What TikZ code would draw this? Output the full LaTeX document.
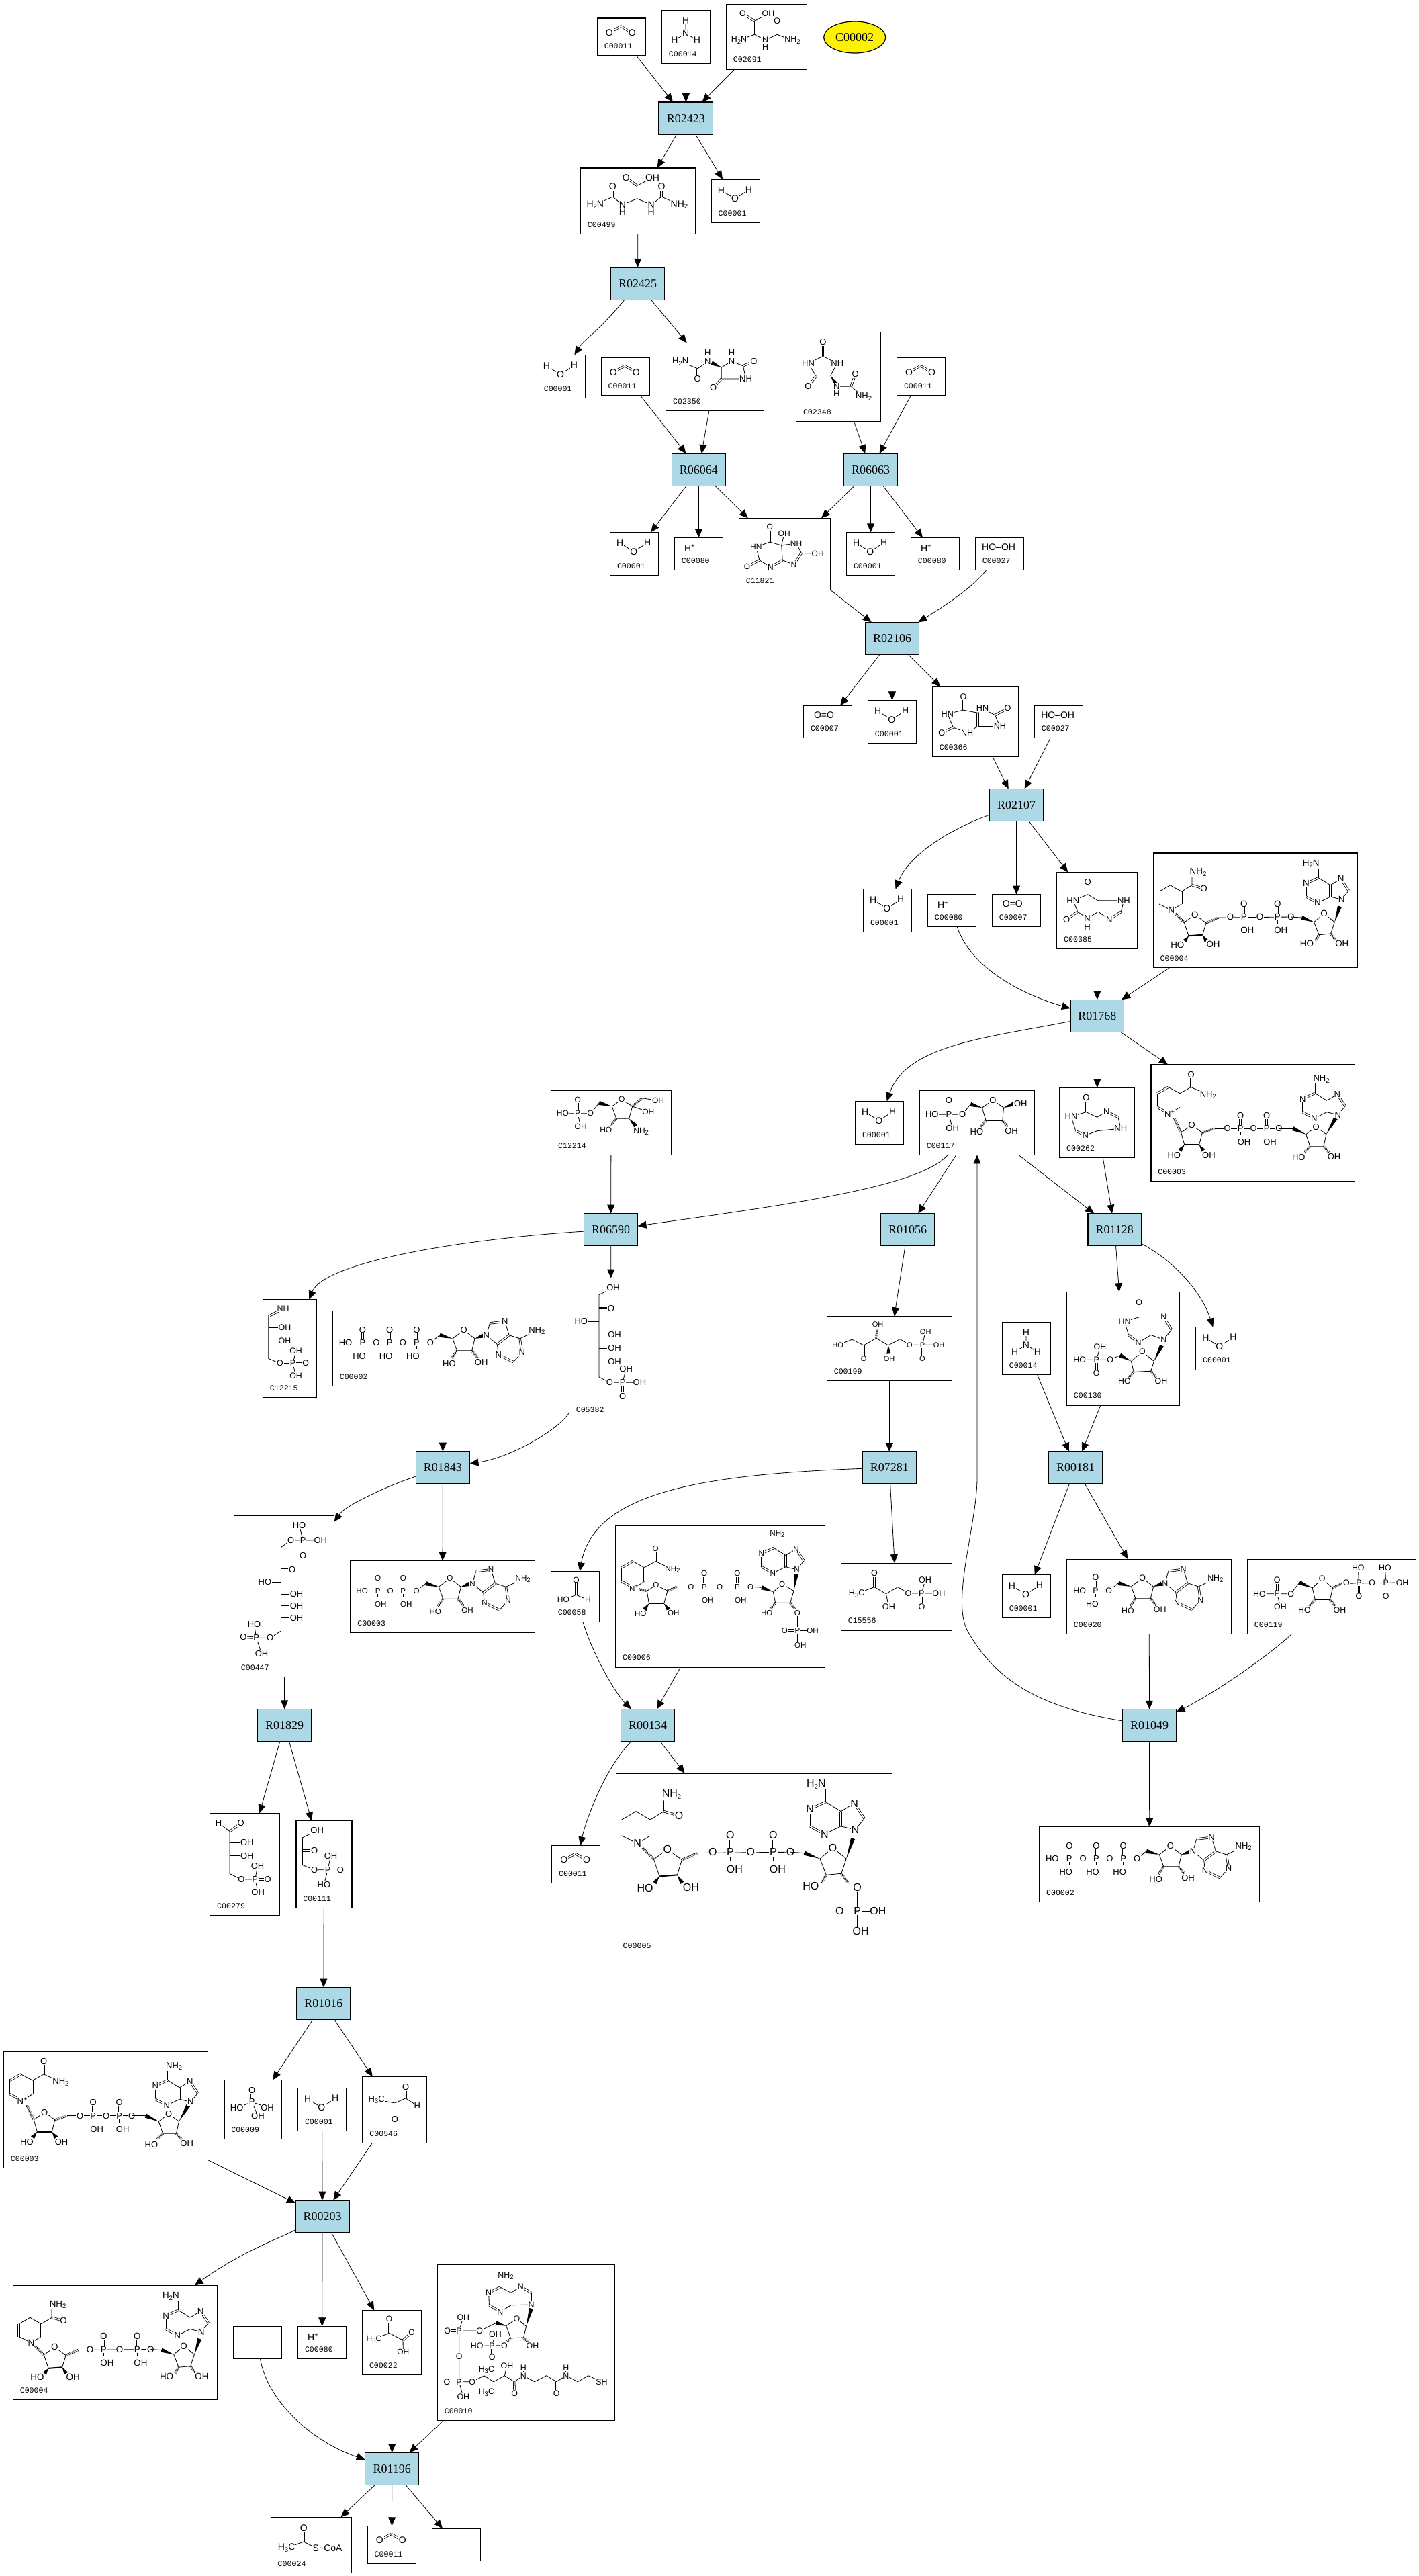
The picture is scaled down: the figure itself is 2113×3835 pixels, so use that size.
\documentclass[tikz,border=0pt]{standalone}
\usepackage{fontspec}
\setmainfont{Liberation Sans}
\newfontfamily\rxnfont{Liberation Serif}
\newfontfamily\idfont{Liberation Mono}
\usetikzlibrary{arrows.meta,calc,shapes.geometric}
\tikzset{
 cbox/.style={draw,fill=white,line width=.6pt,inner sep=0pt,outer sep=0pt},
 rbox/.style={draw,fill=lightb,line width=.6pt,inner sep=0pt,outer sep=0pt,font=\rxnfont\fontsize{9}{9}\selectfont},
 idl/.style={inner sep=0pt,anchor=west,font=\idfont\fontsize{5.8}{6}\selectfont},
 conn/.style={line width=.4pt,-{Triangle[length=6.5pt,width=5.5pt]}},
 bond/.style={line width=.42pt},
 thk/.style={line width=1pt},
 dbond/.style={line width=.4pt,double,double distance=.9pt},
 hashb/.style={line width=1.8pt,dash pattern=on .3pt off .5pt},
 atomlbl/.style={inner sep=.4pt,fill=white,font=\fontsize{\mfs}{\mfs}\selectfont}
}
\definecolor{lightb}{HTML}{ADD8E6}
\def\mfs{7}
\newcount\atmc
\newcommand\atm[3]{\global\advance\atmc by 1 \node[atomlbl] (atom\the\atmc) at (#1,#2) {#3};}
\newcommand\bnd[1]{\draw[bond] #1;}
\newcommand\dbn[1]{\draw[dbond] #1;}
\newcommand\hsh[1]{\draw[hashb] #1;}
\newcommand\wdg[2]{\fill ($#2!1.6pt!90:#1$) -- #1 -- ($#2!1.6pt!-90:#1$) -- cycle;}
\newcommand\sbs[1]{\raisebox{-.35ex}{\fontsize{4.8}{5}\selectfont #1}}
\newcommand\sps[1]{\raisebox{.7ex}{\fontsize{4.8}{5}\selectfont #1}}
\newcommand\cpdbox[5]{%
 \pgfmathsetmacro\cpdw{(#4-#2)*0.5}\pgfmathsetmacro\cpdh{(#5-#3)*0.5}%
 \pgfmathsetmacro\cpdx{(#4+#2)/2}\pgfmathsetmacro\cpdy{(#5+#3)/2}%
 \node[cbox,minimum width=\cpdw pt,minimum height=\cpdh pt] (#1) at (\cpdx,\cpdy) {};}
\newcommand\cpd[6]{\cpdbox{#1}{#2}{#3}{#4}{#5}%
 \node[idl] (#1id) at ({#2+10},{#5-14}) {#6};}
\newcommand\rxn[5]{%
 \pgfmathsetmacro\cpdw{(#4-#2)*0.5}\pgfmathsetmacro\cpdh{(#5-#3)*0.5}%
 \pgfmathsetmacro\cpdx{(#4+#2)/2}\pgfmathsetmacro\cpdy{(#5+#3)/2}%
 \node[rbox,minimum width=\cpdw pt,minimum height=\cpdh pt] (#1) at (\cpdx,\cpdy) {#1};}
\newcommand\place[4]{\begin{scope}[shift={(#1,#2)}]\def\mfs{#3}#4\end{scope}}
% small molecules
\newcommand\molWater{\bnd{(14.6,16.4)--(35.2,29)--(55.6,15.6)}\atm{14.6}{16.4}{H}\atm{35.2}{29}{O}\atm{55.6}{15.6}{H}}
\newcommand\molCO{\dbn{(18,21.7)--(35,12)}\dbn{(35,12)--(51.9,21.7)}\atm{18}{21.7}{O}\atm{51.9}{21.7}{O}}
\newcommand\molAmm{\bnd{(35.6,14.7)--(35.6,33.7)--(18.8,43.7)}\bnd{(35.6,33.7)--(52.4,43.7)}\atm{35.6}{14.7}{H}\atm{35.6}{33.7}{N}\atm{18.8}{43.7}{H}\atm{52.4}{43.7}{H}}
\newcommand\molProton{\atm{22.4}{16}{H\sps{+}}}
\newcommand\molOxy{\atm{30.4}{14.3}{O=O}}
\newcommand\molPerox{\atm{34.7}{14.5}{HO--OH}}
\newcommand\Pgrp[4]{\bnd{(#1,#2)--({#1},{#2+10})}\dbn{(#1,{#2-15})--(#1,#2)}\atm{#1}{#2}{P}\atm{#1}{{#2-19.4}}{O}\atm{{#1+#4}}{{#2+19.9}}{#3}}
% adenine, N9 at origin, NH2 up
\newcommand\adenUp[2]{%
 \bnd{(0,0)--(-16.6,-4)}\bnd{(10.7,-13)--(0,0)}\dbn{(-1,-30.7)--(10.7,-13)}
 \bnd{(-1,-30.7)--(-16.6,-21.3)}\dbn{(-16.6,-21.3)--(-16.6,-4)}\bnd{(-16.6,-21.3)--(-34.3,-32.3)}
 \dbn{(-34.3,-32.3)--(-52.6,-24)}\bnd{(-52.6,-24)--(-52.6,-4)}\dbn{(-52.6,-4)--(-35.6,5.3)}
 \bnd{(-35.6,5.3)--(-16.6,-4)}\bnd{(-34.3,-32.3)--(-34.3,-47.3)}
 \atm{0}{0}{N}\atm{-1}{-30.7}{N}\atm{-52.6}{-24}{N}\atm{-35.6}{5.3}{N}\atm{#2}{-53}{#1}}
% nicotinamide, N at origin
\newcommand\nicOx[1]{%
 \bnd{(0,0)--(15.4,-10.2)}\dbn{(15.4,-10.2)--(15.4,-30.6)}\bnd{(15.4,-30.6)--(-1.8,-39.8)}\dbn{(-1.8,-39.8)--(-18.4,-30.6)}
 \bnd{(-18.4,-30.6)--(-18.4,-10.2)}\dbn{(-18.4,-10.2)--(0,0)}\bnd{(15.4,-30.6)--(32.1,-39.8)}\dbn{(32.1,-39.8)--(32.1,-58.7)}\bnd{(32.1,-39.8)--(57.4,-28.1)}
 \atm{0}{0}{#1}\atm{32.1}{-58.7}{O}\atm{57.4}{-28.1}{NH\sbs{2}}}
\newcommand\nicRed{%
 \bnd{(0,0)--(15,-9)}\dbn{(15,-9)--(15,-27.7)}\bnd{(15,-27.7)--(-1.7,-37.3)--(-18.3,-27.7)}\dbn{(-18.3,-27.7)--(-18.3,-9)}\bnd{(-18.3,-9)--(0,0)}
 \bnd{(15,-27.7)--(30.7,-37.3)--(30.7,-50)}\dbn{(30.7,-37.3)--(48.3,-32.3)}
 \atm{0}{0}{N}\atm{48.3}{-32.3}{O}\atm{39.7}{-56.7}{NH\sbs{2}}}
% NADH
\newcommand\molNADHcore{%
 \hsh{(33,90)--(46,103.3)}
 \begin{scope}[shift={(27,85)}]\nicRed\end{scope}
 \bnd{(46,103.3)--(62,91.7)--(78.7,104)--(73.3,121.7)}\bnd{(46,103.3)--(52.7,123.3)}\draw[thk] (52.7,123.3)--(73.3,121.7);
 \wdg{(52.7,123.3)}{(47,131)}\wdg{(73.3,121.7)}{(79,131)}
 \hsh{(78.7,104)--(97,96)}\bnd{(97,96)--(205,95)}
 \Pgrp{135}{95}{OH}{5}\Pgrp{185}{95}{OH}{5}
 \atm{62}{91.7}{O}\atm{114.7}{95}{O}\atm{158.7}{95}{O}\atm{205}{95}{O}
 \bnd{(205,95)--(221,96)}\wdg{(239.3,102.7)}{(221,96)}
 \bnd{(239.3,102.7)--(254.3,90)--(270,102.7)--(264.3,120)--(246.7,121.7)--(239.3,102.7)}
 \hsh{(246.7,121.7)--(241,131)}\hsh{(264.3,120)--(272,131)}
 \wdg{(270,102.7)}{(277.7,79.3)}
 \atm{254.3}{90}{O}\atm{36}{136.7}{HO}\atm{89.3}{136}{OH}\atm{228.7}{135}{HO}
 \begin{scope}[shift={(280.3,69)}]\adenUp{H\sbs{2}N}{-45.3}\end{scope}}
\newcommand\molNADH{\molNADHcore\atm{281}{135}{OH}}
\newcommand\molNADPH{\molNADHcore
 \bnd{(282.8,136.3)--(282.8,187)}\bnd{(282.8,163.6)--(306.8,163.6)}\dbn{(262.3,163.6)--(282.8,163.6)}
 \atm{282.8}{136.3}{O}\atm{282.8}{163.6}{P}\atm{262.3}{163.6}{O}\atm{306.8}{163.6}{OH}\atm{286.7}{187}{OH}}
% NAD+
\newcommand\molNAD{%
 \hsh{(33,77)--(44.8,101.5)}
 \begin{scope}[shift={(27.6,73.5)}]\nicOx{N\sps{+}}\end{scope}
 \bnd{(44.8,101.5)--(60.8,90.3)--(76.3,101.5)--(71.8,119.4)}\bnd{(44.8,101.5)--(49.9,119.4)}\draw[thk] (49.9,119.4)--(71.8,119.4);
 \wdg{(49.9,119.4)}{(43,128)}\wdg{(71.8,119.4)}{(78,128)}
 \hsh{(76.3,101.5)--(94.7,95.4)}\bnd{(94.7,95.4)--(190.6,95.4)}
 \Pgrp{133.2}{95.4}{OH}{5.5}\Pgrp{172.2}{95.4}{OH}{5}
 \atm{60.8}{90.3}{O}\atm{113.7}{95.4}{O}\atm{152.7}{95.4}{O}\atm{190.6}{95.4}{O}
 \bnd{(190.6,95.4)--(211.3,95.4)}\wdg{(230.8,104)}{(211.3,95.4)}
 \bnd{(230.8,104)--(245.7,92.9)--(261,104)--(257,122)--(237,122)--(230.8,104)}
 \hsh{(237,122)--(228,131)}\hsh{(257,122)--(265,131)}
 \wdg{(261,104)}{(275,80)}
 \atm{245.7}{92.9}{O}\atm{34.4}{135.2}{HO}\atm{86}{135.2}{OH}\atm{219.9}{138.3}{HO}\atm{272.7}{137.2}{OH}
 \begin{scope}[shift={(278.4,75)}]\adenUp{NH\sbs{2}}{-24.7}\end{scope}}
% NADP+
\newcommand\molNADP{%
 \hsh{(32,94)--(46.6,96.9)}
 \begin{scope}[shift={(27.4,92.9)}]\nicOx{N\sps{+}}\end{scope}
 \bnd{(46.6,96.9)--(60.2,88.3)--(77.2,96.9)--(72,115.8)}\bnd{(46.6,96.9)--(49.7,115.8)}\draw[thk] (49.7,115.8)--(72,115.8);
 \wdg{(49.7,115.8)}{(43,125)}\wdg{(72,115.8)}{(79,125)}
 \hsh{(77.2,96.9)--(91.2,90.8)}\bnd{(91.2,90.8)--(200.9,90.8)}
 \Pgrp{132}{90.8}{OH}{5}\Pgrp{181.2}{90.8}{OH}{5}
 \atm{60.2}{88.3}{O}\atm{112.2}{90.8}{O}\atm{155}{90.8}{O}\atm{200.9}{90.8}{O}
 \bnd{(200.9,90.8)--(217.5,91.8)}\wdg{(234.7,98.5)}{(217.5,91.8)}
 \bnd{(234.7,98.5)--(248,86.7)--(265.3,96.9)--(260,114.8)--(237.9,114.8)--(234.7,98.5)}
 \hsh{(237.9,114.8)--(231,124)}\hsh{(260,114.8)--(267,124)}
 \wdg{(265.3,96.9)}{(269,72)}
 \atm{248}{86.7}{O}\atm{37}{131.1}{HO}\atm{86}{130.1}{OH}\atm{225}{130}{HO}
 \begin{scope}[shift={(269.8,65.3)}]\adenUp{NH\sbs{2}}{-29}\end{scope}
 \bnd{(270.7,130)--(270.7,177.6)}\bnd{(270.7,155.6)--(293.4,155.6)}\dbn{(251.6,155.6)--(270.7,155.6)}
 \atm{270.7}{130}{O}\atm{270.7}{155.6}{P}\atm{251.6}{155.6}{O}\atm{293.4}{155.6}{OH}\atm{275.2}{177.6}{OH}}
% adenosine (with its 5' O), ATP coordinates
\newcommand\adenosine{%
 \bnd{(145.4,47.4)--(159.4,36.2)}\wdg{(178.6,41.3)}{(159.4,36.2)}
 \bnd{(178.6,41.3)--(195.2,28.6)--(211.7,41.3)--(207.3,59.2)--(185,59.2)--(178.6,41.3)}
 \hsh{(185,59.2)--(177,71)}\hsh{(207.3,59.2)--(216,70)}
 \wdg{(211.7,41.3)}{(224,37)}
 \bnd{(228.9,36.2)--(234,18.4)}\dbn{(234,18.4)--(256.3,15.8)}\bnd{(256.3,15.8)--(262.8,36.2)}
 \bnd{(228.9,36.2)--(245,50)}\dbn{(245,50)--(262.8,36.2)}\bnd{(262.8,36.2)--(278.7,41.3)}
 \dbn{(278.7,41.3)--(281.9,61.7)}\bnd{(281.9,61.7)--(269,76)}\dbn{(269,76)--(246.8,65.3)}\bnd{(246.8,65.3)--(245,50)}
 \bnd{(278.7,41.3)--(304,29.6)}
 \atm{145.4}{47.4}{O}\atm{195.2}{28.6}{O}\atm{173.5}{78}{HO}\atm{221.3}{76}{OH}\atm{228.9}{36.2}{N}\atm{256.3}{15.8}{N}
 \atm{246.8}{65.3}{N}\atm{281.9}{61.7}{N}\atm{304}{29.6}{NH\sbs{2}}}
\newcommand\molATP{%
 \bnd{(19.1,47.4)--(145.4,47.4)}
 \Pgrp{44.6}{47.4}{HO}{-5}\Pgrp{84.8}{47.4}{HO}{-5.5}\Pgrp{125}{47.4}{HO}{-5.5}
 \atm{19.1}{47.4}{HO}\atm{65}{47.4}{O}\atm{104.6}{47.4}{O}\adenosine}
\newcommand\molADP{%
 \bnd{(17.2,44.9)--(98.2,44.9)}
 \Pgrp{40.8}{44.9}{OH}{4}\Pgrp{78.4}{44.9}{OH}{4.5}
 \atm{17.2}{44.9}{HO}\atm{59.3}{44.9}{O}
 \begin{scope}[shift={(-47.2,-2.5)}]\adenosine\end{scope}}
\newcommand\molAMP{%
 \bnd{(19.2,46.9)--(62.9,46.9)}\Pgrp{43}{46.9}{HO}{-5}\atm{19.2}{46.9}{HO}
 \begin{scope}[shift={(-82.6,-.5)}]\adenosine\end{scope}}
\newcommand\molIMP{%
 \dbn{(107.7,16)--(107.7,37.5)}\bnd{(107.7,37.5)--(86,44.2)--(92,64.3)}\dbn{(92,64.3)--(106.6,75.7)}\bnd{(106.6,75.7)--(125.2,64.3)}
 \dbn{(125.2,64.3)--(125.2,37.5)}\bnd{(125.2,37.5)--(107.7,37.5)}\bnd{(125.2,37.5)--(144.4,37.5)}\dbn{(144.4,37.5)--(156,56.3)}\bnd{(156,56.3)--(144.4,71)--(125.2,64.3)}
 \wdg{(129.9,103.2)}{(141.5,80)}
 \bnd{(129.9,103.2)--(112.4,89)--(96,103.2)--(99.6,119.2)--(125.2,118)--(129.9,103.2)}
 \hsh{(99.6,119.2)--(92,128)}\hsh{(125.2,118)--(133,127)}
 \wdg{(96,103.2)}{(79.2,94.4)}\bnd{(79.2,94.4)--(64.6,101.1)--(19.2,101.1)}\bnd{(44.3,101.1)--(49.5,82.4)}\dbn{(44.3,101.1)--(44.3,121.2)}
 \atm{107.7}{16}{O}\atm{86}{44.2}{HN}\atm{106.6}{75.7}{N}\atm{144.4}{37.5}{N}\atm{144.4}{71}{N}\atm{112.4}{89}{O}
 \atm{86}{133.3}{HO}\atm{140.4}{133.3}{OH}\atm{64.6}{101.1}{O}\atm{44.3}{101.1}{P}\atm{49.5}{82.4}{OH}\atm{19.2}{101.1}{HO}\atm{44.3}{121.2}{O}}
\newcommand\molPRPP{%
 \bnd{(18,51.6)--(64.6,51.6)--(77.5,34.8)}\bnd{(44.3,51.6)--(49,71)}\dbn{(44.3,31.5)--(44.3,51.6)}
 \wdg{(96.7,42.9)}{(77.5,34.8)}\bnd{(96.7,42.9)--(111.2,29.5)--(127,42.9)--(123,60.3)--(100.8,60.3)--(96.7,42.9)}
 \hsh{(100.8,60.3)--(92,70)}\hsh{(123,60.3)--(131,70)}\hsh{(127,42.9)--(140.4,36.2)}
 \bnd{(140.4,36.2)--(230.6,34.8)}\bnd{(166,34.8)--(164.8,13.4)}\dbn{(166,34.8)--(166,55)}\bnd{(206.2,34.8)--(205,13.4)}\dbn{(206.2,34.8)--(206.2,55)}
 \atm{18}{51.6}{HO}\atm{44.3}{51.6}{P}\atm{44.3}{31.5}{O}\atm{49}{71}{OH}\atm{64.6}{51.6}{O}\atm{111.2}{29.5}{O}\atm{85}{76.4}{HO}\atm{137.4}{76.4}{OH}
 \atm{147.3}{34.8}{O}\atm{166}{34.8}{P}\atm{164.8}{13.4}{HO}\atm{166}{55}{O}\atm{185.8}{34.8}{O}\atm{206.2}{34.8}{P}\atm{205}{13.4}{HO}\atm{206.2}{55}{O}\atm{230.6}{34.8}{OH}}
\newcommand\molRFive{%
 \bnd{(18.4,35.7)--(63.7,35.7)--(75.8,20.4)}\bnd{(43.6,35.7)--(48.8,56.6)}\dbn{(43.6,14.3)--(43.6,35.7)}
 \wdg{(93,25.5)}{(75.8,20.4)}\bnd{(93,25.5)--(109,14.3)--(125.1,25.5)--(123.4,44.9)--(98.7,44.9)--(93,25.5)}
 \hsh{(98.7,44.9)--(91,54)}\hsh{(123.4,44.9)--(131,54)}\wdg{(125.1,25.5)}{(140,20)}
 \atm{18.4}{35.7}{HO}\atm{43.6}{35.7}{P}\atm{43.6}{14.3}{O}\atm{48.8}{56.6}{OH}\atm{63.7}{35.7}{O}\atm{109}{14.3}{O}\atm{85}{61.2}{HO}\atm{136.6}{60.2}{OH}\atm{150.4}{19.4}{OH}}
\newcommand\molRibAm{%
 \bnd{(17.2,34.2)--(58.7,34.2)--(71.4,18.4)}\bnd{(39.5,34.2)--(44,54)}\dbn{(39.5,13.8)--(39.5,34.2)}
 \wdg{(90.6,23.5)}{(71.4,18.4)}\bnd{(90.6,23.5)--(105.2,13.3)--(121,23.5)--(116,41.8)--(97,41.8)--(90.6,23.5)}
 \hsh{(97,41.8)--(89,52)}\wdg{(116,41.8)}{(126,53)}\hsh{(121,23.5)--(135,11.2)}\bnd{(135,11.2)--(159.4,14.8)}\bnd{(121,23.5)--(144.6,31.6)}
 \atm{17.2}{34.2}{HO}\atm{39.5}{34.2}{P}\atm{39.5}{13.8}{O}\atm{44}{54}{OH}\atm{58.7}{34.2}{O}\atm{105.2}{13.3}{O}\atm{81.6}{59.2}{HO}\atm{134}{60.7}{NH\sbs{2}}\atm{144.6}{31.6}{OH}\atm{159.4}{14.8}{OH}}
\newcommand\molCHim{%
 \dbn{(8.3,25)--(30,13.3)}\bnd{(8.3,25)--(8.3,87.8)--(25.5,94.9)--(44.6,94.9)}\bnd{(8.3,41.8)--(32.5,41.8)}\bnd{(8.3,61.7)--(32.5,61.7)}
 \bnd{(49.1,77)--(44.6,94.9)--(49.1,113.8)}\dbn{(44.6,94.9)--(63.8,94.9)}
 \atm{30}{13.3}{NH}\atm{32.5}{41.8}{OH}\atm{32.5}{61.7}{OH}\atm{25.5}{94.9}{O}\atm{44.6}{94.9}{P}\atm{49.1}{77}{OH}\atm{49.1}{113.8}{OH}\atm{63.8}{94.9}{O}}
\newcommand\molFiveP{%
 \bnd{(65.7,14.8)--(44.6,25)--(44.6,147.4)--(60.6,155.6)--(105,155.6)}\dbn{(44.6,44.9)--(62.5,44.9)}\bnd{(44.6,64.8)--(17.9,64.8)}
 \bnd{(44.6,84.7)--(67.6,84.7)}\bnd{(44.6,104.6)--(67.6,104.6)}\bnd{(44.6,124.5)--(67.6,124.5)}\bnd{(79.7,155.6)--(84.8,135.2)}\dbn{(79.7,155.6)--(79.7,176)}
 \atm{65.7}{14.8}{OH}\atm{62.5}{44.9}{O}\atm{17.9}{64.8}{HO}\atm{67.6}{84.7}{OH}\atm{67.6}{104.6}{OH}\atm{67.6}{124.5}{OH}\atm{60.6}{155.6}{O}\atm{79.7}{155.6}{P}\atm{84.8}{135.2}{OH}\atm{79.7}{176}{O}\atm{105}{155.6}{OH}}
\newcommand\molBisP{%
 \bnd{(70,171.4)--(70,46.9)--(84.8,36.2)--(128.8,36.2)}\bnd{(102.7,36.2)--(97,14.3)}\dbn{(102.7,36.2)--(102.7,59.7)}
 \dbn{(70,80.1)--(86.7,80.1)}\bnd{(70,98.5)--(45.9,98.5)}\bnd{(70,116.3)--(93,116.3)}\bnd{(70,134.2)--(93,134.2)}\bnd{(70,152)--(93,152)}
 \bnd{(70,171.4)--(53.6,181.6)--(33.2,181.6)}\dbn{(14,180.6)--(33.2,181.6)}\bnd{(30,161.7)--(33.2,181.6)--(41,205.6)}
 \atm{97}{14.3}{HO}\atm{102.7}{36.2}{P}\atm{84.8}{36.2}{O}\atm{128.8}{36.2}{OH}\atm{102.7}{59.7}{O}\atm{86.7}{80.1}{O}\atm{45.9}{98.5}{HO}\atm{93}{116.3}{OH}\atm{93}{134.2}{OH}\atm{93}{152}{OH}\atm{53.6}{181.6}{O}\atm{33.2}{181.6}{P}\atm{14}{180.6}{O}\atm{30}{161.7}{HO}\atm{41}{205.6}{OH}}
\newcommand\molGAldP{%
 \bnd{(12.8,14.3)--(29.3,27)--(29.3,90)--(46.6,98.5)--(67,98.5)}\dbn{(29.3,27)--(45.9,14.8)}\bnd{(29.3,43.4)--(55,43.4)}\bnd{(29.3,63.3)--(55,63.3)}
 \bnd{(70.8,78.6)--(67,98.5)--(71.4,117.3)}\dbn{(67,98.5)--(86,98.5)}
 \atm{12.8}{14.3}{H}\atm{45.9}{14.8}{O}\atm{55}{43.4}{OH}\atm{55}{63.3}{OH}\atm{46.6}{98.5}{O}\atm{67}{98.5}{P}\atm{70.8}{78.6}{OH}\atm{86}{98.5}{O}\atm{71.4}{117.3}{OH}}
\newcommand\molDHAP{%
 \bnd{(31.3,14.3)--(9.6,25)--(9.6,65.8)--(27.4,73)--(47.2,73)}\dbn{(9.6,44.4)--(27.4,44.4)}\bnd{(51.7,52)--(47.2,73)--(41.5,94.9)}\dbn{(47.2,73)--(66,73)}
 \atm{31.3}{14.3}{OH}\atm{27.4}{44.4}{O}\atm{27.4}{73}{O}\atm{47.2}{73}{P}\atm{51.7}{52}{OH}\atm{66}{73}{O}\atm{41.5}{94.9}{HO}}
\newcommand\molRuP{%
 \bnd{(16.3,42.9)--(37.3,34.8)--(54.8,43.5)--(73.4,32.8)--(91.2,43.5)--(108.7,34.2)--(122.9,42.9)--(166.6,42.9)}
 \dbn{(54.8,43.5)--(54.8,63)}\hsh{(73.4,32.8)--(75,20)}\wdg{(91.2,43.5)}{(92,56)}\bnd{(142.1,42.9)--(146.8,22.8)}\dbn{(142.1,42.9)--(142.1,63)}
 \atm{16.3}{42.9}{HO}\atm{54.8}{63}{O}\atm{75.7}{12.7}{OH}\atm{92.6}{63}{OH}\atm{122.9}{42.9}{O}\atm{142.1}{42.9}{P}\atm{146.8}{22.8}{OH}\atm{142.1}{63}{O}\atm{166.6}{42.9}{OH}}
\newcommand\molDHBP{%
 \bnd{(23.3,45.5)--(49.5,35.5)--(67,45.5)--(84.5,35.5)--(100.2,44.9)--(145.5,44.9)}\dbn{(49.5,15.4)--(49.5,35.5)}\bnd{(67,45.5)--(71,65)}\bnd{(120,44.9)--(125.2,25.5)}\dbn{(120,44.9)--(120,65)}
 \atm{23.3}{45.5}{H\sbs{3}C}\atm{49.5}{15.4}{O}\atm{71}{65}{OH}\atm{100.2}{44.9}{O}\atm{120}{44.9}{P}\atm{125.2}{25.5}{OH}\atm{120}{65}{O}\atm{145.5}{44.9}{OH}}
\newcommand\molFormate{%
 \dbn{(37.6,12.8)--(37.6,35)}\bnd{(18.5,42.3)--(37.6,35)--(55,42.3)}\atm{37.6}{12.8}{O}\atm{18.5}{42.3}{HO}\atm{55}{42.3}{H}}
\newcommand\molPi{%
 \dbn{(41.2,15)--(41.2,32.8)}\bnd{(18.8,41.9)--(41.2,32.8)--(64.2,41)}\bnd{(41.2,32.8)--(50,53.5)}
 \atm{41.2}{15}{O}\atm{41.2}{32.8}{P}\atm{18.8}{41.9}{HO}\atm{64.2}{41}{OH}\atm{50}{53.5}{OH}}
\newcommand\molMgo{%
 \bnd{(20.6,34.4)--(47.9,39.4)--(64.2,32.3)--(81.2,43.5)}\dbn{(64.2,15.8)--(64.2,32.3)}\dbn{(47.9,39.4)--(47.9,63.4)}
 \atm{20.6}{34.4}{H\sbs{3}C}\atm{64.2}{15.8}{O}\atm{47.9}{63.4}{O}\atm{81.2}{43.5}{H}}
\newcommand\molPyr{%
 \dbn{(40,13.3)--(40,34)}\bnd{(17.4,43)--(40,34)--(60.4,44.7)--(60.8,62.3)}\dbn{(60.4,44.7)--(73.5,33)}
 \atm{40}{13.3}{O}\atm{17.4}{43}{H\sbs{3}C}\atm{73.5}{33}{O}\atm{60.8}{62.3}{OH}}
\newcommand\molAcCoA{%
 \dbn{(49,16)--(49,36.7)}\bnd{(23.3,46)--(49,36.7)--(67,46)--(80,46)}
 \atm{49}{16}{O}\atm{23.3}{46}{H\sbs{3}C}\atm{67}{46}{S}\atm{92.6}{46}{CoA}}
\newcommand\molCoA{%
 \begin{scope}[shift={(139.6,59.6)}]
  \bnd{(0,0)--(-30,.7)}\bnd{(0,-17.7)--(0,0)}\dbn{(0,-17.7)--(-15.6,-27)}\bnd{(-15.6,-27)--(-30.2,-17.7)}\dbn{(-30.2,-17.7)--(-30.2,.7)}
  \bnd{(-30.2,-17.7)--(-46.1,-26)}\dbn{(-46.1,-26)--(-63.3,-17.7)}\bnd{(-63.3,-17.7)--(-62.6,.7)}\dbn{(-62.6,.7)--(-46.1,10.7)}\bnd{(-46.1,10.7)--(-30.2,.7)}\bnd{(-46.1,-26)--(-46.1,-40)}
  \atm{0}{0}{N}\atm{-15.6}{-27}{N}\atm{-63.3}{-17.7}{N}\atm{-46.1}{10.7}{N}\atm{-38}{-42.7}{NH\sbs{2}}
 \end{scope}
 \wdg{(132.2,91.9)}{(139.6,65.3)}
 \bnd{(132.2,91.9)--(118,80.3)--(102.4,91.3)--(109,109.3)--(128.2,108.6)--(132.2,91.9)}
 \wdg{(102.4,91.3)}{(87.3,86.9)}\bnd{(87.3,86.9)--(62.9,98.6)--(32.2,98.6)}
 \dbn{(14.7,98.6)--(32.2,98.6)}\bnd{(38.4,78.6)--(32.2,98.6)--(32.2,174.3)}\dbn{(14,174.3)--(32.2,174.3)}\bnd{(32.2,174.3)--(38.4,197)}
 \hsh{(109,109.3)--(102,116)}\bnd{(99.6,120.3)--(58.8,120.9)}\bnd{(86,103.6)--(81.2,120.9)}\dbn{(81.2,120.9)--(81.2,138)}\hsh{(128.2,108.6)--(135,116)}
 \bnd{(32.2,174.3)--(51.8,174.3)--(69.3,165.3)--(83.6,174.3)--(100,165.3)--(114.3,174.3)--(128,165.3)--(144.6,174.3)--(162.2,165.3)--(177.3,174.3)--(191.4,165.3)--(209,174.3)--(224.6,165.3)--(244.5,174.3)}
 \bnd{(83.6,160)--(83.6,188)}\bnd{(100,165.3)--(103.6,150.3)}\dbn{(114.3,174.3)--(114.7,192)}\dbn{(177.3,174.3)--(177.3,192)}
 \bnd{(128,165.3)--(128,153.6)}\bnd{(191.4,165.3)--(191.4,153.6)}
 \atm{118}{80.3}{O}\atm{62.9}{98.6}{O}\atm{32.2}{98.6}{P}\atm{14.7}{98.6}{O}\atm{38.4}{78.6}{OH}\atm{32.2}{136.6}{O}\atm{32.2}{174.3}{P}\atm{14}{174.3}{O}\atm{38.4}{197}{OH}\atm{51.8}{174.3}{O}
 \atm{99.6}{120.3}{O}\atm{81.2}{120.9}{P}\atm{58.8}{120.9}{HO}\atm{86}{103.6}{OH}\atm{81.2}{138}{O}\atm{141.5}{120.3}{OH}
 \atm{73}{156.9}{H\sbs{3}C}\atm{73}{190.3}{H\sbs{3}C}\atm{103.6}{150.3}{OH}\atm{114.7}{192}{O}\atm{128}{165.3}{N}\atm{128}{153.6}{H}\atm{177.3}{192}{O}\atm{191.4}{165.3}{N}\atm{191.4}{153.6}{H}\atm{244.5}{174.3}{SH}}
\newcommand\molUreido{%
 \dbn{(72.7,18)--(84.2,26.3)}\bnd{(84.2,26.3)--(107,14.7)}
 \bnd{(21.8,54.7)--(47.8,43)--(62.4,54.7)--(84.2,45.7)--(105.2,54.7)--(120.5,43)--(147,54.7)}\dbn{(47.8,28)--(47.8,43)}\dbn{(120.5,28)--(120.5,43)}
 \atm{67.7}{14.7}{O}\atm{107}{14.7}{OH}\atm{21.8}{54.7}{H\sbs{2}N}\atm{47.8}{28}{O}\atm{62.4}{54.7}{N}\atm{62.4}{65.7}{H}\atm{105.2}{54.7}{N}\atm{105.2}{65.7}{H}\atm{120.5}{28}{O}\atm{147}{54.7}{NH\sbs{2}}}
\newcommand\molAllant{%
 \dbn{(24.5,13.3)--(42,24.3)}\bnd{(62.4,13.3)--(42,24.3)--(42,44.3)--(19,52.7)}\bnd{(42,44.3)--(58.2,52.7)--(75.6,44.3)--(98.5,52.7)}\dbn{(75.6,24.3)--(75.6,44.3)}
 \atm{24.5}{13.3}{O}\atm{62.4}{13.3}{OH}\atm{75.6}{24.3}{O}\atm{19}{52.7}{H\sbs{2}N}\atm{58.2}{52.7}{N}\atm{58.2}{63.3}{H}\atm{98.5}{52.7}{NH\sbs{2}}}
\newcommand\molHiu{%
 \bnd{(21.4,28)--(47,38.3)--(62.2,28)}\dbn{(47,38.3)--(47,53.6)}\wdg{(82.6,36.4)}{(68,30)}\bnd{(82.6,36.4)--(97.9,27.6)--(114.8,34.4)--(118.9,53.6)--(82.6,53.6)--(82.6,36.4)}
 \dbn{(114.8,34.4)--(130.6,27.6)}\dbn{(82.6,53.6)--(70.4,67)}
 \atm{21.4}{28}{H\sbs{2}N}\atm{47}{53.6}{O}\atm{62.2}{28}{N}\atm{62.2}{14.5}{H}\atm{97.9}{27.6}{N}\atm{97.9}{14.5}{H}\atm{130.6}{27.6}{O}\atm{118.9}{53.6}{NH}\atm{70.4}{67}{O}}
\newcommand\molOhcu{%
 \dbn{(39.8,15)--(39.8,36)}\bnd{(17.9,46.7)--(39.8,36)--(61.2,46.7)--(51,65)}\bnd{(17.9,46.7)--(29.6,65.8)}\dbn{(29.6,65.8)--(17.9,80.4)}\wdg{(51,65)}{(60,78)}\bnd{(60.2,81)--(81.6,81)--(100.5,96.4)}\dbn{(81.6,81)--(88,63)}
 \atm{39.8}{15}{O}\atm{17.9}{46.7}{HN}\atm{61.2}{46.7}{NH}\atm{17.9}{80.4}{O}\atm{60.2}{81}{N}\atm{60.2}{91.8}{H}\atm{88}{63}{O}\atm{100.5}{96.4}{NH\sbs{2}}}
\newcommand\molHiso{%
 \dbn{(45.9,13.4)--(45.9,35.6)}\bnd{(25.5,43.2)--(45.9,35.6)--(63.3,40.6)--(85.2,37.5)--(92.9,52)--(117.3,52.8)}\bnd{(25.5,43.2)--(30.6,62.4)--(47,72.7)}\dbn{(30.6,62.4)--(12.2,72)}
 \dbn{(47,72.7)--(64.8,62.4)}\bnd{(64.8,62.4)--(63.3,40.6)--(67.3,23.3)}\dbn{(92.9,52)--(81.6,68.9)}\bnd{(81.6,68.9)--(64.8,62.4)}
 \atm{45.9}{13.4}{O}\atm{25.5}{43.2}{HN}\atm{67.3}{23.3}{OH}\atm{85.2}{37.5}{NH}\atm{117.3}{52.8}{OH}\atm{81.6}{68.9}{N}\atm{47}{72.7}{N}\atm{12.2}{72}{O}}
\newcommand\molUric{%
 \dbn{(46,14.8)--(46,34.7)}\bnd{(22.4,40.3)--(46,34.7)--(67.5,38.8)--(74.6,32.1)--(93.2,42.3)--(100.5,59.2)--(67.5,59.2)--(51.7,68.4)--(31,60.7)--(22.4,40.3)}
 \dbn{(31,60.7)--(13.8,68.4)}\dbn{(67.5,59.2)--(67.5,38.8)}\dbn{(93.2,42.3)--(112,32.1)}
 \atm{46}{14.8}{O}\atm{22.4}{40.3}{HN}\atm{13.8}{68.4}{O}\atm{51.7}{68.4}{NH}\atm{74.6}{32.1}{HN}\atm{112}{32.1}{O}\atm{100.5}{59.2}{NH}}
\newcommand\molXan{%
 \dbn{(45.9,14.3)--(45.9,33.2)}\bnd{(24,42.3)--(45.9,33.2)--(61.4,42.3)--(99.6,42.3)--(95.6,58.7)}\bnd{(24,42.3)--(31,58.7)--(45.3,68.9)--(61.4,58.7)--(78.1,70.4)}\dbn{(31,58.7)--(14.3,70.4)}
 \dbn{(61.4,58.7)--(61.4,42.3)}\dbn{(78.1,70.4)--(95.6,58.7)}
 \atm{45.9}{14.3}{O}\atm{24}{42.3}{HN}\atm{14.3}{70.4}{O}\atm{45.3}{68.9}{N}\atm{45.3}{81.6}{H}\atm{99.6}{42.3}{NH}\atm{78.1}{70.4}{N}}
\newcommand\molHyp{%
 \dbn{(39.6,14.8)--(39.6,36.2)}\bnd{(17.2,42.9)--(39.6,36.2)--(55.7,43.9)--(70,35.2)}\bnd{(17.2,42.9)--(24,64.3)}\dbn{(24,64.3)--(38.5,70.9)}\bnd{(38.5,70.9)--(55.7,64.3)--(91,60.7)--(87.2,43.9)}\dbn{(70,35.2)--(87.2,43.9)}\bnd{(55.7,64.3)--(55.7,43.9)}
 \atm{39.6}{14.8}{O}\atm{17.2}{42.9}{HN}\atm{38.5}{70.9}{N}\atm{70}{35.2}{N}\atm{91}{60.7}{NH}}
\begin{document}
\begin{tikzpicture}[x=0.5pt,y=-0.5pt]
\useasboundingbox (0,0) rectangle (2113,3835);
% compounds
\cpd{a1}{889.4}{27}{961.7}{83}{C00011}\place{889.4}{27}{7}{\molCO}
\cpd{a2}{985.5}{16}{1057.8}{95}{C00014}\place{985.5}{16}{7}{\molAmm}
\cpd{a3}{1081.5}{7}{1201.7}{103}{C02091}\place{1081.5}{7}{6.2}{\molAllant}
\node[draw,fill=yellow,ellipse,line width=.6pt,inner sep=0pt,minimum width=46pt,minimum height=23.5pt,font=\rxnfont\fontsize{9}{9}\selectfont] (iso) at (1272.7,55.5) {C00002};
\cpd{b1}{864.5}{250}{1035.6}{348.7}{C00499}\place{864.5}{250}{7}{\molUreido}
\cpd{b2}{1059.3}{267}{1131.7}{331.7}{C00001}\place{1059.3}{267}{7}{\molWater}
\cpd{d1}{799.4}{528.4}{871.3}{592.3}{C00001}\place{799.4}{528.4}{7}{\molWater}
\cpd{d2}{895.3}{532.6}{967.2}{588.4}{C00011}\place{895.3}{532.6}{7}{\molCO}
\cpd{d3}{991.7}{510.4}{1137.7}{611.4}{C02350}\place{991.7}{510.4}{6.5}{\molHiu}
\cpd{d4}{1185.6}{494.3}{1311.6}{627.5}{C02348}\place{1185.6}{494.3}{6.5}{\molOhcu}
\cpd{d5}{1335.6}{532.6}{1407.6}{588.4}{C00011}\place{1335.6}{532.6}{7}{\molCO}
\cpd{e1}{908.6}{792.4}{980.5}{856.3}{C00001}\place{908.6}{792.4}{7}{\molWater}
\cpd{e2}{1004.5}{800.4}{1076.4}{848.7}{C00080}\place{1004.5}{800.4}{7}{\molProton}
\cpd{e3}{1100.4}{771.4}{1236.6}{878.5}{C11821}\place{1100.4}{771.4}{6}{\molHiso}
\cpd{e4}{1260.6}{792.4}{1332.6}{856.3}{C00001}\place{1260.6}{792.4}{7}{\molWater}
\cpd{e5}{1356.5}{800.4}{1428.5}{848.7}{C00080}\place{1356.5}{800.4}{7}{\molProton}
\cpd{e6}{1452.4}{800.4}{1524.4}{848.7}{C00027}\place{1452.4}{800.4}{7}{\molPerox}
\cpd{f1}{1196.6}{1050.5}{1268.4}{1098.5}{C00007}\place{1196.6}{1050.5}{7}{\molOxy}
\cpd{f2}{1292.5}{1042.3}{1364.3}{1106.6}{C00001}\place{1292.5}{1042.3}{7}{\molWater}
\cpd{f3}{1388.4}{1022.4}{1516.4}{1126.5}{C00366}\place{1388.4}{1022.4}{6.3}{\molUric}
\cpd{f4}{1540.5}{1050.5}{1612.3}{1098.5}{C00027}\place{1540.5}{1050.5}{7}{\molPerox}
\cpd{g1}{1717.3}{1270}{2021.6}{1440.3}{C00004}\place{1717.3}{1270}{6.7}{\molNADH}
\cpd{g2}{1285.6}{1323.5}{1357.4}{1387.2}{C00001}\place{1285.6}{1323.5}{7}{\molWater}
\cpd{g3}{1381.5}{1331.6}{1453.3}{1379.6}{C00080}\place{1381.5}{1331.6}{7}{\molProton}
\cpd{g4}{1477.4}{1331.6}{1549.7}{1379.6}{C00007}\place{1477.4}{1331.6}{7}{\molOxy}
\cpd{g5}{1573.8}{1298.5}{1693.8}{1412.2}{C00385}\place{1573.8}{1298.5}{6.5}{\molXan}
\cpd{h1}{1273.6}{1639.3}{1345.3}{1703.6}{C00001}\place{1273.6}{1639.3}{7}{\molWater}
\cpd{h2}{1369.4}{1623.5}{1540.5}{1719.4}{C00117}\place{1369.4}{1623.5}{6.5}{\molRFive}
\cpd{h3}{1577.8}{1619.4}{1689.8}{1723.5}{C00262}\place{1577.8}{1619.4}{6.5}{\molHyp}
\cpd{h4}{1713.9}{1584.7}{2017.5}{1758.7}{C00003}\place{1713.9}{1584.7}{6.5}{\molNAD}
\cpd{i1}{820.7}{1623.5}{999.2}{1719.4}{C12214}\place{820.7}{1623.5}{6}{\molRibAm}
\cpd{i2}{391.5}{1934.7}{471.2}{2080.6}{C12215}\place{391.5}{1934.7}{6.2}{\molCHim}
\cpd{i3}{495.4}{1951.5}{823.2}{2063.3}{C00002}\place{495.4}{1951.5}{6.5}{\molATP}
\cpd{i4}{847.4}{1902.6}{972.4}{2112.2}{C05382}\place{847.4}{1902.6}{6.5}{\molFiveP}
\cpd{i5}{1231.4}{1959.4}{1417.2}{2055.2}{C00199}\place{1231.4}{1959.4}{5.5}{\molRuP}
\cpd{i6}{1588.5}{1923.2}{1756.8}{2092}{C00130}\place{1588.5}{1923.2}{6.2}{\molIMP}
\cpd{i7}{1492.4}{1968.8}{1564.6}{2046.5}{C00014}\place{1492.4}{1968.8}{7}{\molAmm}
\cpd{i8}{1780.7}{1975.5}{1852.3}{2039.1}{C00001}\place{1780.7}{1975.5}{7}{\molWater}
\cpd{j1}{348.5}{2256.6}{497.7}{2496.4}{C00447}\place{348.5}{2256.6}{6.5}{\molBisP}
\cpd{j2}{521.9}{2323.5}{796.2}{2430.6}{C00003}\place{521.9}{2323.5}{5.8}{\molADP}
\cpd{j3}{820.4}{2339.3}{892.5}{2414.3}{C00058}\place{820.4}{2339.3}{6}{\molFormate}
\cpd{j4}{916.7}{2271.4}{1228.6}{2482.1}{C00006}\place{916.7}{2271.4}{5.8}{\molNADP}
\cpd{j5}{1252.4}{2327.1}{1417.2}{2426.9}{C15556}\place{1252.4}{2327.1}{6.3}{\molDHBP}
\cpd{j6}{1492.4}{2344.5}{1564.6}{2408.8}{C00001}\place{1492.4}{2344.5}{7}{\molWater}
\cpd{j7}{1588.5}{2321.1}{1833.7}{2432.3}{C00020}\place{1588.5}{2321.1}{6.2}{\molAMP}
\cpd{j8}{1857.5}{2321.1}{2108.6}{2432.3}{C00119}\place{1857.5}{2321.1}{6.2}{\molPRPP}
\cpd{k1}{1547.7}{2719.6}{1875.6}{2831.5}{C00002}\place{1547.7}{2719.6}{6.5}{\molATP}
\cpd{k2}{312.8}{2699.5}{416.7}{2851.5}{C00279}\place{312.8}{2699.5}{6.5}{\molGAldP}
\cpd{k3}{440.9}{2710.7}{523.9}{2840.3}{C00111}\place{440.9}{2710.7}{6.5}{\molDHAP}
\cpd{k4}{821.7}{2747.4}{893.1}{2803.6}{C00011}\place{821.7}{2747.4}{7}{\molCO}
\cpd{k5}{917.3}{2640}{1328.7}{2910.3}{C00005}
\begin{scope}[shift={(914.6,2635.6)},x=.64pt,y=-.64pt]\def\mfs{8}\molNADPH\end{scope}
\cpd{m1}{5.5}{3054.2}{309.7}{3227.5}{C00003}\place{5.5}{3054.2}{6.5}{\molNAD}
\cpd{m2}{333.9}{3096.5}{419.4}{3184.4}{C00009}\place{333.9}{3096.5}{6.5}{\molPi}
\cpd{m3}{443.6}{3108.5}{515.8}{3172.8}{C00001}\place{443.6}{3108.5}{7}{\molWater}
\cpd{m4}{540}{3091.5}{635.8}{3190.6}{C00546}\place{540}{3091.5}{6.5}{\molMgo}
\cpd{n1}{19.4}{3402.5}{323.6}{3572.3}{C00004}\place{19.4}{3402.5}{6.7}{\molNADH}
\cpdbox{n2}{347.3}{3463.3}{419.6}{3511.3}
\cpd{n3}{443.6}{3463.3}{515.8}{3511.3}{C00080}\place{443.6}{3463.3}{7}{\molProton}
\cpd{n4}{539.6}{3439.3}{627.8}{3535.3}{C00022}\place{539.6}{3439.3}{6}{\molPyr}
\cpd{n5}{651.4}{3371.4}{915.5}{3603.3}{C00010}\place{651.4}{3371.4}{6.2}{\molCoA}
\cpd{p1}{403.3}{3747.3}{523.7}{3830.3}{C00024}\place{403.3}{3747.3}{7}{\molAcCoA}
\cpd{p2}{547.3}{3760.3}{619.6}{3816.3}{C00011}\place{547.3}{3760.3}{7}{\molCO}
\cpdbox{p3}{643.3}{3764.3}{715.5}{3812.3}
% reactions
\rxn{R02423}{981}{152}{1061.6}{200.7}
\rxn{R02425}{909.3}{398}{989.7}{446.5}
\rxn{R06064}{1000.4}{675.3}{1080.5}{723.5}
\rxn{R06063}{1256.5}{675.3}{1336.6}{723.5}
\rxn{R02106}{1288.7}{926.4}{1368.3}{974.6}
\rxn{R02107}{1473.3}{1174.5}{1553.7}{1222.4}
\rxn{R01768}{1593.9}{1488.3}{1673.7}{1536.7}
\rxn{R06590}{869.8}{1806.6}{949.5}{1854.6}
\rxn{R01056}{1311.8}{1806.7}{1391.6}{1854.3}
\rxn{R01128}{1619.9}{1806.7}{1699.7}{1854.3}
\rxn{R01843}{619.1}{2160.7}{699.5}{2208.7}
\rxn{R07281}{1284.4}{2161}{1364.2}{2208.6}
\rxn{R00181}{1561.7}{2161}{1641.5}{2208.6}
\rxn{R01829}{383.5}{2544.4}{463.9}{2592.3}
\rxn{R00134}{924.4}{2544.4}{1004.7}{2592.3}
\rxn{R01049}{1671.7}{2544.8}{1751.5}{2592.4}
\rxn{R01016}{441.8}{2958.5}{521.8}{3006.5}
\rxn{R00203}{440}{3275.6}{520}{3323.3}
\rxn{R01196}{543.7}{3651.3}{623.7}{3699.7}
% connectors
\foreach \s/\t in {a1/R02423,a2/R02423,a3/R02423,R02423/b1,R02423/b2,b1/R02425,R02425/d3,d2/R06064,d3/R06064,d4/R06063,d5/R06063,
 R06064/e1,R06064/e2,R06064/e3,R06063/e3,R06063/e4,R06063/e5,e3/R02106,R02106/f1,R02106/f2,R02106/f3,f3/R02107,f4/R02107,
 R02107/g4,R02107/g5,g5/R01768,g1/R01768,R01768/h3,R01768/h4,h3/R01128,h2/R01128,h2/R01056,i1/R06590,R06590/i4,i3/R01843,R01843/j2,
 R01056/i5,i5/R07281,R07281/j5,R01128/i6,i7/R00181,i6/R00181,R00181/j6,R00181/j7,j7/R01049,R01049/k1,j4/R00134,R00134/k5,
 j1/R01829,R01829/k2,R01829/k3,k3/R01016,R01016/m2,R01016/m4,m3/R00203,m4/R00203,m1/R00203,R00203/n3,R00203/n4,n4/R01196,n5/R01196,R01196/p1,R01196/p2,R01196/p3}
 {\draw[conn] (\s) -- (\t);}
\draw[conn] (R02425) .. controls (890,495) and (870,505) .. (d1);
\draw[conn] (e6) .. controls (1445,878) and (1400,906) .. (R02106);
\draw[conn] (R02107) .. controls (1400,1240) and (1350,1280) .. (g2);
\draw[conn] (g3) .. controls (1445,1440) and (1520,1480) .. (R01768);
\draw[conn] (R01768) .. controls (1470,1545) and (1350,1555) .. (h1);
\draw[conn] (h2) .. controls (1370,1765) and (1200,1790) .. (R06590);
\draw[conn] (R06590) .. controls (680,1845) and (482,1880) .. (i2);
\draw[conn] (i4) .. controls (830,2130) and (760,2170) .. (R01843);
\draw[conn] (R01843) .. controls (580,2211) and (515,2240) .. (j1);
\draw[conn] (R07281) .. controls (1050,2195) and (885,2220) .. (j3);
\draw[conn] (R01128) .. controls (1750,1878) and (1790,1925) .. (i8);
\draw[conn] (j8) .. controls (1890,2464) and (1810,2520) .. (R01049);
\draw[conn] (j3) .. controls (885,2470) and (920,2525) .. (R00134);
\draw[conn] (R00134) .. controls (905,2627) and (875,2700) .. (k4);
\draw[conn] (R00203) .. controls (410,3335) and (360,3352) .. (n1);
\draw[conn] (n2) .. controls (398,3575) and (465,3635) .. (R01196);
\coordinate (bendA) at (1441.7,2429.6);
\coordinate (bendB) at (1455,2200);
\draw[conn] (R01049) .. controls (1570,2545) and (1490,2515) .. (bendA) .. controls (1415,2385) and (1455,2270) .. (bendB) -- (h2);
\end{tikzpicture}
\end{document}
